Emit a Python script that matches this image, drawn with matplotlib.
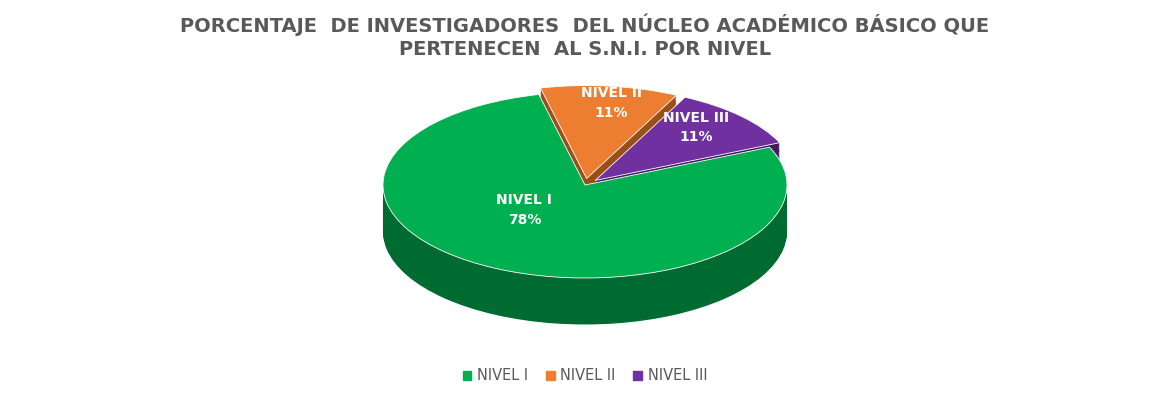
import matplotlib
matplotlib.use("Agg")
import matplotlib.pyplot as plt

categories = ["NIVEL I", "NIVEL II", "NIVEL III"]
values = [78, 11, 11]
pct_labels = ["78%", "11%", "11%"]
top_colors = ["#00b050", "#ed7d31", "#7030a0"]
side_colors = ["#006b30", "#9c4e17", "#44195f"]
explode = [0, 0.07, 0.07]

fig = plt.figure(figsize=(11.7, 4.0), dpi=100)
ax = fig.add_axes([282/1170, 65/400, 606/1170, 300/400])

def fix():
    ax.set_xlim(-1.5, 1.5); ax.set_ylim(-1.613, 1.613); ax.set_aspect('auto')

ax.axis('off')
start = 24
depth = 0.5
N = 40
for k in range(N, 0, -1):
    ax.pie(values, colors=side_colors, startangle=start, counterclock=False,
           explode=explode, center=(0, -depth * k / N), radius=1.0,
           wedgeprops=dict(linewidth=0))
    fix()
ax.pie(values, colors=top_colors, startangle=start, counterclock=False,
       explode=explode, center=(0, 0), radius=1.0,
       wedgeprops=dict(linewidth=0.6, edgecolor="white"))
fix()

label_pos = [(-0.30, -0.27), (0.13, 0.88), (0.55, 0.62)]
for (x, y), c, p in zip(label_pos, categories, pct_labels):
    ax.text(x, y, f"{c}\n{p}", color="white", fontsize=10, fontweight="bold",
            ha="center", va="center", linespacing=1.5)

fig.text(0.5, 0.91, "PORCENTAJE  DE INVESTIGADORES  DEL NÚCLEO ACADÉMICO BÁSICO QUE\nPERTENECEN  AL S.N.I. POR NIVEL",
         ha="center", va="center", fontsize=14, fontweight="bold", color="#595959", linespacing=1.3)

from matplotlib.patches import Patch
handles = [Patch(color=c) for c in top_colors]
fig.legend(handles, categories, loc="center", bbox_to_anchor=(0.5, 0.06), ncol=3,
           frameon=False, fontsize=10.5, handlelength=0.6, handleheight=0.6,
           columnspacing=1.2, handletextpad=0.4, labelcolor="#595959")

fig.savefig("out.png", dpi=100)
